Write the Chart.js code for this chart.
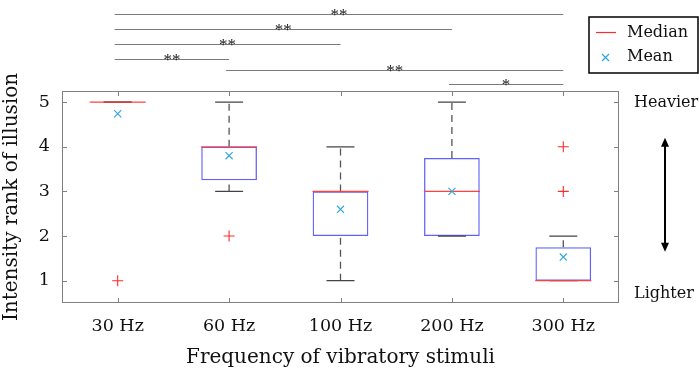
<!DOCTYPE html>
<html>
<head>
<meta charset="utf-8">
<script src="https://cdn.jsdelivr.net/npm/chart.js@4/dist/chart.umd.min.js"></script>
<style>
  html, body { margin: 0; padding: 0; background: #fff; }
  #wrap { width: 699px; height: 370px; }
</style>
</head>
<body>
<div id="wrap"><canvas id="box" width="699" height="370"></canvas></div>
<script>
// dados
const categorias = ["30 Hz", "60 Hz", "100 Hz", "200 Hz", "300 Hz"];
const q1 = [5, 3.25, 2, 2, 1];
const q3 = [5, 4, 3, 3.75, 1.75];
const mediana = [5, 4, 3, 3, 1];
const bigodeMin = [5, 3, 1, 2, 1];
const bigodeMax = [5, 5, 4, 5, 2];
const media = [4.74, 3.8, 2.6, 3.0, 1.53];
const outliers = [[1], [2], [], [], [3, 4]];
const yTicks = [1, 2, 3, 4, 5];
const rotulosDireita = { 5: "Heavier", 1: "Lighter" };
// significancia: de, ate, nivel (unidades y), rotulo
const sigDe = [0, 0, 0, 0, 1, 3];
const sigAte = [4, 3, 2, 1, 4, 4];
const sigNivel = [6.975, 6.64, 6.30, 5.97, 5.72, 5.41];
const sigRotulo = ["**", "**", "**", "**", "**", "*"];

const FONTE = "'DejaVu Serif', 'Liberation Serif', serif";

let hastes = [];
categorias.forEach((c, i) => {
    hastes.push({ x: c, y: bigodeMin[i] }, { x: c, y: q1[i] }, { x: c, y: null });
    hastes.push({ x: c, y: q3[i] }, { x: c, y: bigodeMax[i] }, { x: c, y: null });
});
let tampas = [];
categorias.forEach((c, i) => {
    tampas.push({ x: c, y: bigodeMin[i] }, { x: c, y: bigodeMax[i] });
});
let pontosOut = [];
outliers.forEach((lista, i) => lista.forEach(v => pontosOut.push({ x: categorias[i], y: v })));

const extras = {
    id: "extras",
    afterDraw(chart) {
        const ctx = chart.ctx;
        const a = chart.chartArea;
        const xs = chart.scales.x, ys = chart.scales.y;
        ctx.save();
        // moldura e ticks para dentro
        ctx.strokeStyle = "#808080";
        ctx.lineWidth = 1;
        ctx.strokeRect(a.left + 0.5, a.top + 0.5, a.right - a.left - 1, a.bottom - a.top - 1);
        ctx.beginPath();
        categorias.forEach((c, i) => {
            const px = Math.round(xs.getPixelForValue(i)) + 0.5;
            ctx.moveTo(px, a.bottom); ctx.lineTo(px, a.bottom - 5);
            ctx.moveTo(px, a.top); ctx.lineTo(px, a.top + 5);
        });
        yTicks.forEach(v => {
            const py = Math.round(ys.getPixelForValue(v)) + 0.5;
            ctx.moveTo(a.left, py); ctx.lineTo(a.left + 5, py);
            ctx.moveTo(a.right, py); ctx.lineTo(a.right - 5, py);
        });
        ctx.stroke();

        // barras de significancia
        ctx.strokeStyle = "#7a7a7a";
        ctx.fillStyle = "#222";
        ctx.font = "17px 'Liberation Serif', serif";
        ctx.textAlign = "center";
        ctx.textBaseline = "alphabetic";
        sigDe.forEach((d, k) => {
            const x0 = xs.getPixelForValue(d) - 3;
            const x1 = xs.getPixelForValue(sigAte[k]);
            const py = Math.round(ys.getPixelForValue(sigNivel[k])) + 0.5;
            ctx.beginPath();
            ctx.moveTo(x0, py); ctx.lineTo(x1, py);
            ctx.stroke();
            ctx.fillText(sigRotulo[k], (x0 + x1) / 2, py + 5);
        });

        // rotulos do lado direito
        ctx.fillStyle = "#111";
        ctx.textAlign = "left";
        ctx.textBaseline = "middle";
        ctx.font = "16px " + FONTE;
        Object.keys(rotulosDireita).forEach(v => {
            ctx.fillText(rotulosDireita[v], a.right + 15, ys.getPixelForValue(+v) + (+v === 1 ? 13 : 1));
        });
        // seta dupla
        const ax = 665, y0 = ys.getPixelForValue(4.2), y1 = ys.getPixelForValue(1.65);
        ctx.strokeStyle = "#000";
        ctx.fillStyle = "#000";
        ctx.lineWidth = 2;
        ctx.beginPath();
        ctx.moveTo(ax, y0 + 6); ctx.lineTo(ax, y1 - 6);
        ctx.stroke();
        ctx.beginPath();
        ctx.moveTo(ax, y0); ctx.lineTo(ax - 4, y0 + 9); ctx.lineTo(ax + 4, y0 + 9); ctx.closePath();
        ctx.moveTo(ax, y1); ctx.lineTo(ax - 4, y1 - 9); ctx.lineTo(ax + 4, y1 - 9); ctx.closePath();
        ctx.fill();

        // legenda
        ctx.lineWidth = 1.5;
        ctx.strokeStyle = "#000";
        ctx.fillStyle = "#fff";
        ctx.fillRect(589, 17, 109, 56);
        ctx.strokeRect(589, 17, 109, 56);
        ctx.strokeStyle = "#ff2a2a";
        ctx.lineWidth = 1.2;
        ctx.beginPath();
        ctx.moveTo(596, 32.5); ctx.lineTo(616, 32.5);
        ctx.stroke();
        ctx.strokeStyle = "#2aa6e0";
        ctx.beginPath();
        ctx.moveTo(602, 54); ctx.lineTo(609, 61);
        ctx.moveTo(609, 54); ctx.lineTo(602, 61);
        ctx.stroke();
        ctx.fillStyle = "#111";
        ctx.font = "16px " + FONTE;
        ctx.fillText("Median", 627, 33);
        ctx.fillText("Mean", 627, 57);
        ctx.restore();
    }
};

const ctx = document.getElementById("box").getContext("2d");
new Chart(ctx, {
    type: "bar",
    data: {
        labels: categorias,
        datasets: [
            {
                type: "line", label: "Mean", data: media, order: 1,
                showLine: false, pointStyle: "crossRot", pointRadius: 5,
                borderColor: "#2aa6e0", pointBorderWidth: 1.1, backgroundColor: "#2aa6e0"
            },
            {
                type: "line", label: "Outliers", data: pontosOut, order: 2,
                showLine: false, pointStyle: "cross", pointRadius: 5.5,
                borderColor: "#ff2a2a", pointBorderWidth: 1.1
            },
            {
                type: "line", label: "Median", data: mediana, order: 3,
                showLine: false, pointStyle: "line", pointRadius: 28,
                borderColor: "#ff4040", pointBorderWidth: 1.3
            },
            {
                type: "line", label: "Caps", data: tampas, order: 4,
                showLine: false, pointStyle: "line", pointRadius: 14,
                borderColor: "#444", pointBorderWidth: 1.3
            },
            {
                type: "line", label: "Whiskers", data: hastes, order: 5,
                spanGaps: false, pointRadius: 0, borderColor: "#555",
                borderWidth: 1.3, borderDash: [7, 5]
            },
            {
                label: "Box", data: q1.map((v, i) => [v, q3[i]]), order: 6,
                backgroundColor: "rgba(0,0,0,0)", borderColor: "#6060ff",
                borderWidth: 1.3, borderSkipped: false,
                barPercentage: 0.5, categoryPercentage: 1
            }
        ]
    },
    options: {
        responsive: false,
        animation: false,
        layout: { padding: { top: 91, right: 80, left: 0, bottom: 0 } },
        plugins: { legend: { display: false }, tooltip: { enabled: false } },
        scales: {
            x: {
                grid: { display: false, drawTicks: false }, border: { display: false },
                ticks: { color: "#111", font: { family: FONTE, size: 17.5 }, padding: 13, maxRotation: 0 },
                title: { display: true, text: "Frequency of vibratory stimuli", color: "#111", font: { family: FONTE, size: 20 }, padding: { top: 0, bottom: 0 } },
                afterFit: s => { s.height = 67; }
            },
            y: {
                min: 0.5, max: 5.25,
                grid: { display: false, drawTicks: false }, border: { display: false },
                afterBuildTicks: s => { s.ticks = yTicks.map(v => ({ value: v })); },
                ticks: { color: "#111", font: { family: FONTE, size: 17.5 }, padding: 12 },
                title: { display: true, text: "Intensity rank of illusion", color: "#111", font: { family: FONTE, size: 20 }, padding: { top: 0, bottom: 0 } },
                afterFit: s => { s.width = 62; }
            }
        }
    },
    plugins: [extras]
});
</script>
</body>
</html>
